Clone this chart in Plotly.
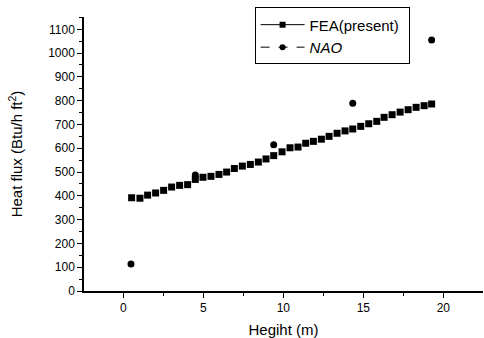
import plotly.graph_objects as go

# FEA (present) series
fea_x = [0.52, 1.04, 1.52, 2.02, 2.52, 3.02, 3.52, 4.02, 4.5, 4.98, 5.48, 5.98, 6.46,
         6.94, 7.44, 7.94, 8.44, 8.92, 9.4, 9.92, 10.42, 10.92, 11.4, 11.88, 12.38,
         12.86, 13.36, 13.86, 14.34, 14.84, 15.34, 15.84, 16.3, 16.8, 17.3, 17.8,
         18.3, 18.8, 19.27]
fea_y = [392, 390, 403, 412, 423, 437, 444, 447, 469, 478, 482, 490, 500,
         515, 525, 532, 542, 555, 569, 585, 602, 605, 621, 629, 638,
         650, 663, 673, 681, 692, 703, 713, 730, 741, 752, 762,
         772, 779, 786]

# NAO series
nao_x = [0.48, 4.5, 9.4, 14.34, 19.27]
nao_y = [113, 488, 615, 789, 1055]

x_ticks = [0, 5, 10, 15, 20]
y_ticks = [0, 100, 200, 300, 400, 500, 600, 700, 800, 900, 1000, 1100]

FONT = "Liberation Sans, Arial, sans-serif"

fig = go.Figure()
fig.add_trace(go.Scatter(x=fea_x, y=fea_y, mode="markers", showlegend=False,
                         marker=dict(symbol="square", size=7, color="black")))
fig.add_trace(go.Scatter(x=nao_x, y=nao_y, mode="markers", showlegend=False,
                         marker=dict(symbol="circle", size=7, color="black")))
# legend entries
fig.add_trace(go.Scatter(x=[None], y=[None], mode="lines+markers", name="FEA(present)&nbsp;",
                         line=dict(color="black", width=1),
                         marker=dict(symbol="square", size=6, color="black")))
fig.add_trace(go.Scatter(x=[None], y=[None], mode="lines+markers", name="<i>NAO</i>",
                         line=dict(color="black", width=1, dash="dash"),
                         marker=dict(symbol="circle", size=6, color="black")))

fig.update_layout(
    width=484, height=338,
    margin=dict(l=84, r=1, t=17, b=47, autoexpand=False),
    paper_bgcolor="white", plot_bgcolor="white",
    font=dict(family=FONT, color="black", size=12),
    showlegend=True,
    legend=dict(x=0.4275, y=1.035, xanchor="left", yanchor="top",
                bordercolor="black", borderwidth=1, bgcolor="white",
                font=dict(size=15, family=FONT), itemwidth=44,
                tracegroupgap=0),
    xaxis=dict(range=[-2.456, 22.48], tickvals=x_ticks, ticks="outside", ticklen=5,
               tickwidth=1, tickcolor="black", showline=True, linecolor="black",
               linewidth=1.5, showgrid=False, zeroline=False,
               minor=dict(dtick=2.5, tick0=0, ticks="outside", ticklen=3, tickcolor="black"),
               title=dict(text="Hegiht (m)", font=dict(size=15), standoff=11),
               tickfont=dict(size=12)),
    yaxis=dict(range=[0, 1151.7], tickvals=y_ticks, ticks="outside", ticklen=5,
               tickwidth=1, tickcolor="black", showline=True, linecolor="black",
               linewidth=1.5, showgrid=False, zeroline=False,
               minor=dict(dtick=50, tick0=0, ticks="outside", ticklen=3, tickcolor="black"),
               title=dict(text="Heat flux (Btu/h ft<sup>2</sup>)", font=dict(size=15), standoff=22),
               tickfont=dict(size=12)),
)

fig.write_html("out.html", config={"displayModeBar": False},
               post_script="document.body.style.margin='0';")
